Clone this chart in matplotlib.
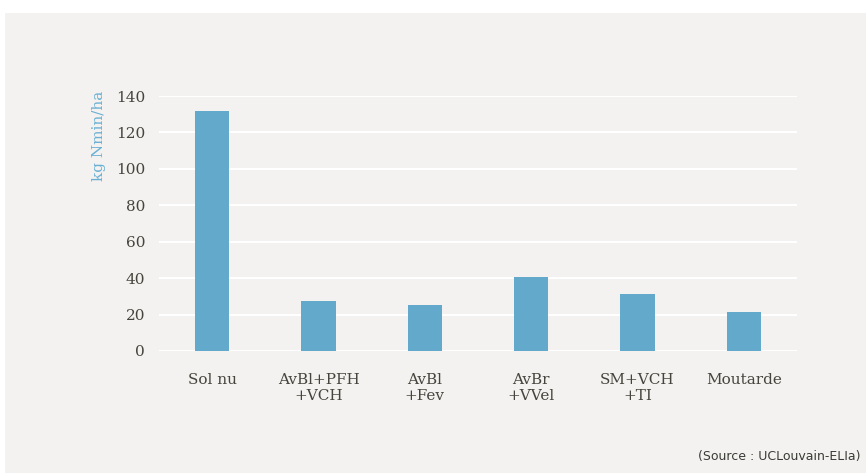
import matplotlib
matplotlib.use("Agg")
import matplotlib.pyplot as plt
from matplotlib.patches import Rectangle

categories = ["Sol nu", "AvBl+PFH\n+VCH", "AvBl\n+Fev", "AvBr\n+VVel", "SM+VCH\n+TI", "Moutarde"]
values = [132, 27.5, 25.3, 40.6, 31.3, 21.4]
yticks = [0, 20, 40, 60, 80, 100, 120, 140]

bg = "#f3f2f0"
bar_color = "#62a9cc"
text_color = "#46453d"

fig = plt.figure(figsize=(8.66, 4.73), dpi=100)
fig.patch.set_facecolor("white")
fig.patches.append(Rectangle((5/866, 0), 1 - 5/866, 1 - 13/473, transform=fig.transFigure,
                             facecolor=bg, edgecolor="none", zorder=-10))

ax = fig.add_axes([159/866, 1 - 351/473, (797 - 159)/866, (351 - 96)/473])
ax.set_facecolor(bg)
ax.patch.set_alpha(0)
x = range(len(categories))
ax.bar(x, values, width=0.32, color=bar_color, zorder=3)
ax.set_xlim(-0.5, len(categories) - 0.5)
ax.set_ylim(0, 140)
ax.set_yticks(yticks)
ax.set_xticks(list(x))
ax.set_xticklabels(categories, fontfamily="DejaVu Serif", fontsize=11, color=text_color,
                   linespacing=1.2)
for lab in ax.get_yticklabels():
    lab.set_fontfamily("DejaVu Serif")
    lab.set_fontsize(11)
    lab.set_color(text_color)
ax.tick_params(axis="both", length=0)
ax.tick_params(axis="y", pad=10)
ax.tick_params(axis="x", pad=16)
ax.grid(axis="y", color="white", linewidth=1.5, zorder=0)
for s in ax.spines.values():
    s.set_visible(False)
ax.set_ylabel("kg Nmin/ha", fontfamily="DejaVu Serif", fontsize=11, color="#6ab0d4")
ax.yaxis.set_label_coords(-0.083, 0.845)

fig.text(860/866, 1 - 456/473, "(Source : UCLouvain-ELIa)", ha="right", va="center",
         fontsize=9, color="#3a3a36", fontfamily="DejaVu Sans")

fig.savefig("out.png", dpi=100, facecolor=fig.get_facecolor())
